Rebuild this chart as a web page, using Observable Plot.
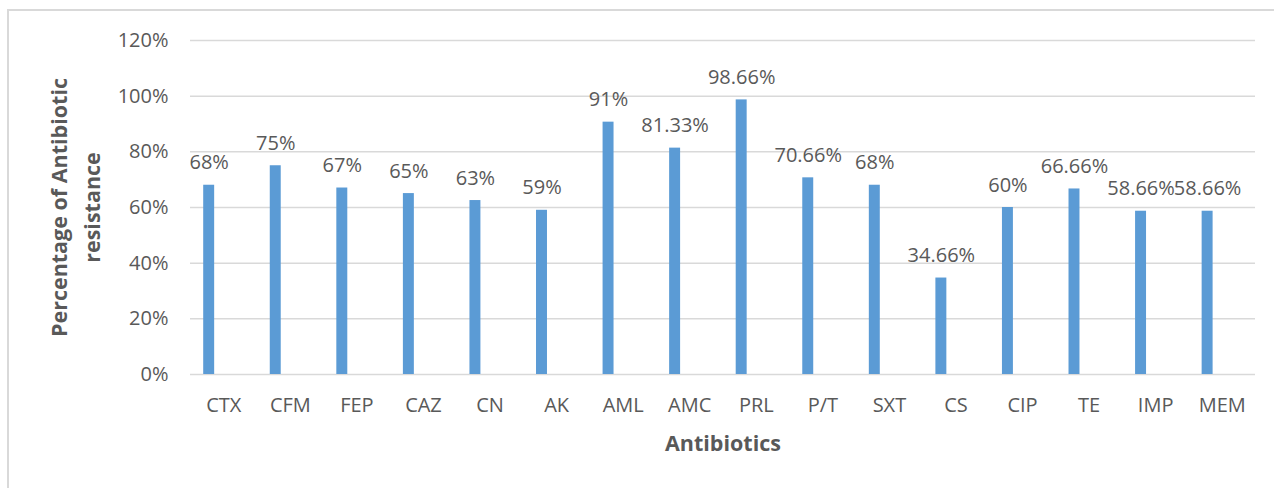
<!DOCTYPE html>
<html>
<head>
<meta charset="utf-8">
<script src="https://cdn.jsdelivr.net/npm/d3@7"></script>
<script src="https://cdn.jsdelivr.net/npm/@observablehq/plot@0.6"></script>
<style>
  html, body { margin: 0; padding: 0; background: #fff; overflow: hidden; }
  #wrap { position: relative; width: 1274px; height: 488px; }
  #frame { position: absolute; left: 7px; top: 9px; width: 1300px; height: 600px; border: 2px solid #d9d9d9; box-sizing: border-box; pointer-events: none; }
  #chart { position: absolute; left: 0; top: 0; }
</style>
</head>
<body>
<div id="wrap"><div id="chart"></div><div id="frame"></div></div>
<script>
const categories = ["CTX","CFM","FEP","CAZ","CN","AK","AML","AMC","PRL","P/T","SXT","CS","CIP","TE","IMP","MEM"];
const values = [0.68,0.75,0.67,0.65,0.625,0.59,0.9066,0.8133,0.9866,0.7066,0.68,0.3466,0.60,0.6666,0.5866,0.5866];
const valueLabels = ["68%","75%","67%","65%","63%","59%","91%","81.33%","98.66%","70.66%","68%","34.66%","60%","66.66%","58.66%","58.66%"];
const yTicks = [0,0.2,0.4,0.6,0.8,1.0,1.2];
const yTitleLines = ["Percentage of Antibiotic","resistance"];
const xTitle = "Antibiotics";

const data = categories.map((c,i) => ({cat: c, value: values[i], label: valueLabels[i]}));
const textColor = "#595959";

const chart = Plot.plot({
  width: 1274,
  height: 488,
  marginLeft: 190,
  marginRight: 19,
  marginTop: 40,
  marginBottom: 114,
  style: {fontFamily: "'Open Sans', sans-serif", background: "transparent", color: textColor},
  x: {domain: categories, padding: 0, round: false},
  y: {domain: [0, 1.2]},
  marks: [
    Plot.ruleY(yTicks, {stroke: "#d9d9d9", strokeWidth: 1.5}),
    Plot.barY(data, {x: "cat", y: "value", fill: "#5B9BD5", insetLeft: 13.2, insetRight: 42.4}),
    Plot.text(data, {x: "cat", y: "value", text: "label", dx: -14.6, dy: -16, lineAnchor: "bottom", fontSize: 20, fill: textColor}),
    Plot.axisY({ticks: yTicks, tickFormat: d3.format(".0%"), tickSize: 0, tickPadding: 22, fontSize: 20, label: null, fill: textColor}),
    Plot.axisX({tickSize: 0, tickPadding: 23, fontSize: 20, label: null, fill: textColor}),
    Plot.text([yTitleLines[0]], {frameAnchor: "left", textAnchor: "middle", rotate: -90, dx: -130, text: d => d, fontSize: 21.5, fontWeight: "bold", fill: textColor, lineAnchor: "middle"}),
    Plot.text([yTitleLines[1]], {frameAnchor: "left", textAnchor: "middle", rotate: -90, dx: -97, text: d => d, fontSize: 21.5, fontWeight: "bold", fill: textColor, lineAnchor: "middle"}),
    Plot.text([xTitle], {frameAnchor: "bottom", dy: 70, text: d => d, fontSize: 21.5, fontWeight: "bold", fill: textColor, lineAnchor: "middle"})
  ]
});
document.getElementById("chart").appendChild(chart);
</script>
</body>
</html>
